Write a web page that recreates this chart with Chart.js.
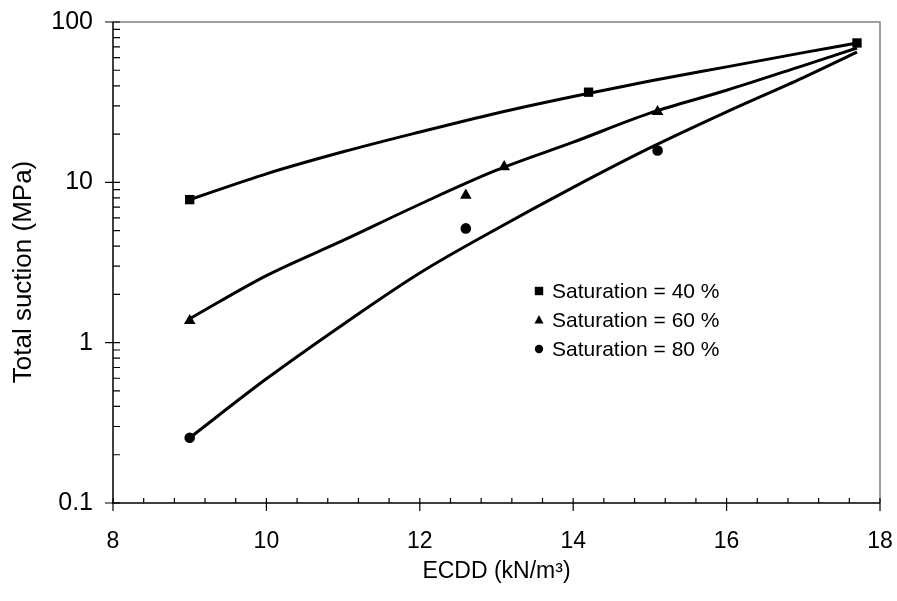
<!DOCTYPE html>
<html>
<head>
<meta charset="utf-8">
<script src="https://cdn.jsdelivr.net/npm/chart.js@4.4.1/dist/chart.umd.min.js"></script>
<style>
  html, body { margin: 0; padding: 0; background: #fff; }
  #wrap { width: 897px; height: 601px; }
</style>
</head>
<body>
<div id="wrap"><canvas id="myChart" width="897" height="601"></canvas></div>
<script>
// measured points
const x40 = [9, 14.2, 17.7];
const y40 = [7.8, 36.5, 74];
const x60 = [9, 12.6, 13.1, 15.1];
const y60 = [1.37, 8.3, 12.5, 27.6];
const x80 = [9, 12.6, 15.1];
const y80 = [0.255, 5.16, 15.8];

// fitted curves
const fitX = [9, 10, 11, 12, 13, 14, 15, 16, 17, 17.7];
const fit40 = [7.8, 11.3, 15.5, 20.6, 27.0, 34.3, 42.8, 52.5, 64.4, 74];
const fit60 = [1.41, 2.62, 4.34, 7.3, 11.9, 17.8, 27.0, 37.5, 53.5, 68.8];
const fit80 = [0.255, 0.595, 1.3, 2.72, 5.12, 9.31, 16.4, 27.5, 45.0, 64.9];

const xTicks = [8, 10, 12, 14, 16, 18];
const yTicks = [0.1, 1, 10, 100];
const seriesLabels = ['Saturation = 40 %', 'Saturation = 60 %', 'Saturation = 80 %'];

const FONT = '"Liberation Sans", Arial, Helvetica, sans-serif';

const pts = (xs, ys) => xs.map((x, i) => ({ x: x, y: ys[i] }));

function curve(ys) {
    return {
        type: 'line',
        data: pts(fitX, ys),
        borderColor: '#000',
        borderWidth: 3,
        pointRadius: 0,
        fill: false,
        cubicInterpolationMode: 'monotone'
    };
}

function marks(xs, ys, style, r) {
    return {
        type: 'scatter',
        data: pts(xs, ys),
        pointStyle: style,
        pointRadius: r,
        backgroundColor: '#000',
        borderColor: '#000',
        borderWidth: 0,
        showLine: false
    };
}

// axis frame, tick marks, legend and y title
const decor = {
    id: 'decor',
    afterDraw(chart) {
        const { ctx, chartArea: a, scales: { x, y } } = chart;
        ctx.save();
        ctx.lineWidth = 1.5;
        ctx.strokeStyle = '#808080';
        ctx.beginPath();
        ctx.moveTo(a.left, a.top); ctx.lineTo(a.right, a.top); ctx.lineTo(a.right, a.bottom);
        ctx.stroke();
        ctx.strokeStyle = '#000';
        ctx.beginPath();
        ctx.moveTo(a.left, a.top); ctx.lineTo(a.left, a.bottom); ctx.lineTo(a.right, a.bottom);
        ctx.stroke();

        ctx.lineWidth = 1.2;
        ctx.beginPath();
        yTicks.forEach(v => {
            const py = y.getPixelForValue(v);
            ctx.moveTo(a.left - 8, py); ctx.lineTo(a.left + 7, py);
            if (v < 100) {
                for (let k = 2; k <= 9; k++) {
                    const my = y.getPixelForValue(v * k);
                    ctx.moveTo(a.left, my); ctx.lineTo(a.left + 7, my);
                }
            }
        });
        for (let i = 0; i <= 25; i++) {
            const v = 8 + i * 0.4;
            const px = x.getPixelForValue(v);
            if (i % 5 === 0) {
                ctx.moveTo(px, a.bottom - 5); ctx.lineTo(px, a.bottom + 8);
            } else {
                ctx.moveTo(px, a.bottom - 5); ctx.lineTo(px, a.bottom);
            }
        }
        ctx.stroke();

        // legend inside the plot
        const lx = a.left + 426, ly = a.top + 269, gap = 29;
        ctx.fillStyle = '#000';
        ctx.font = '21px ' + FONT;
        ctx.textBaseline = 'middle';
        ctx.textAlign = 'left';
        seriesLabels.forEach((t, i) => {
            const cy = ly + i * gap;
            ctx.beginPath();
            if (i === 0) {
                ctx.rect(lx - 4.2, cy - 4.2, 8.4, 8.4);
            } else if (i === 1) {
                ctx.moveTo(lx, cy - 5); ctx.lineTo(lx + 4.5, cy + 3.5); ctx.lineTo(lx - 4.5, cy + 3.5);
                ctx.closePath();
            } else {
                ctx.arc(lx, cy, 4.2, 0, Math.PI * 2);
            }
            ctx.fill();
            ctx.fillText(t, lx + 13, cy + 1);
        });

        // y axis title
        ctx.translate(24, 272);
        ctx.rotate(-Math.PI / 2);
        ctx.textAlign = 'center';
        ctx.font = '26px ' + FONT;
        ctx.fillText('Total suction (MPa)', 0, 0);
        ctx.restore();
    }
};

const ctx = document.getElementById('myChart').getContext('2d');
const myChart = new Chart(ctx, {
    data: {
        datasets: [
            curve(fit40), curve(fit60), curve(fit80),
            marks(x40, y40, 'rect', 6.6),
            marks(x60, y60, 'triangle', 6.7),
            marks(x80, y80, 'circle', 5.3)
        ]
    },
    options: {
        responsive: false,
        animation: false,
        layout: { padding: { top: 22, right: 17, left: 0, bottom: 0 } },
        plugins: { legend: { display: false }, tooltip: { enabled: false } },
        scales: {
            x: {
                type: 'linear',
                min: 8,
                max: 18,
                afterBuildTicks: s => { s.ticks = xTicks.map(v => ({ value: v })); },
                afterFit: s => { s.height = 98; s.paddingLeft = 0; s.paddingRight = 0; },
                grid: { display: false, drawTicks: false },
                border: { display: false },
                ticks: { color: '#000', padding: 25, font: { family: FONT, size: 23 } },
                title: {
                    display: true,
                    text: 'ECDD (kN/m³)',
                    color: '#000',
                    font: { family: FONT, size: 23 },
                    padding: { top: 0, bottom: 16 }
                }
            },
            y: {
                type: 'logarithmic',
                min: 0.1,
                max: 100,
                afterBuildTicks: s => { s.ticks = yTicks.map(v => ({ value: v })); },
                afterFit: s => { s.width = 113; s.paddingTop = 0; s.paddingBottom = 0; },
                grid: { display: false, drawTicks: false },
                border: { display: false },
                ticks: {
                    color: '#000',
                    padding: 20,
                    font: { family: FONT, size: 25 },
                    callback: v => String(v)
                }
            }
        }
    },
    plugins: [decor]
});
</script>
</body>
</html>
